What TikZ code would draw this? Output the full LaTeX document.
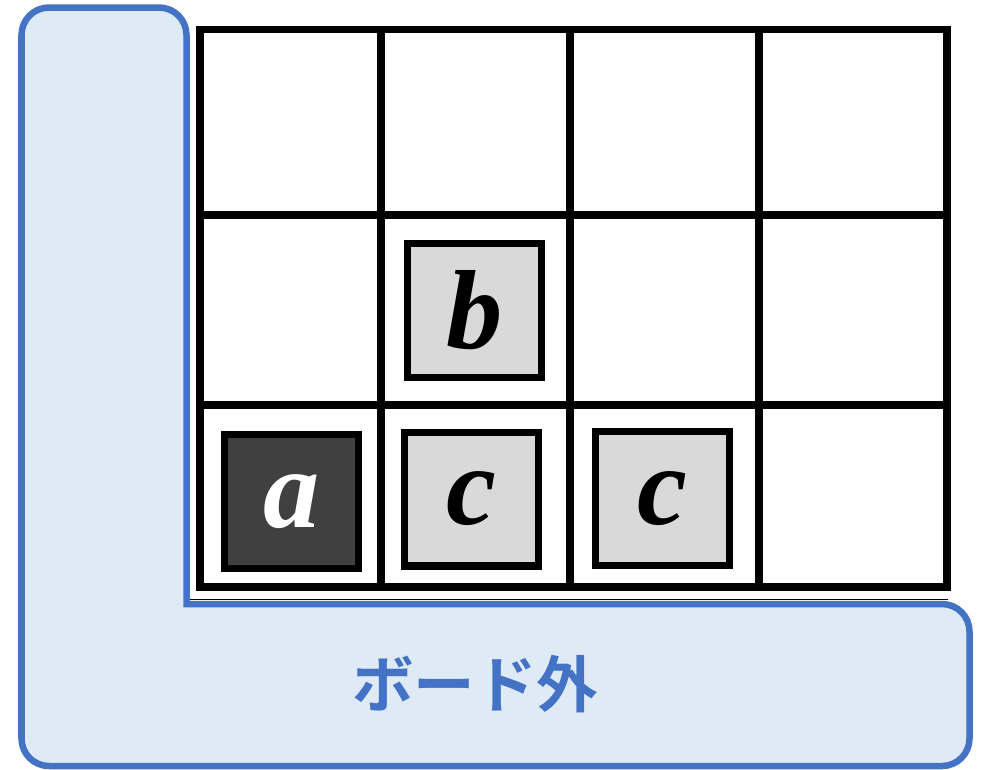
\documentclass[tikz,border=0pt]{standalone}
\usepackage{fontspec}
\newfontfamily\piecefont{Liberation Serif}
\newfontfamily\jpfont{Noto Sans CJK JP Bold}
\definecolor{boardblue}{HTML}{4472C4}
\definecolor{boardfill}{HTML}{DEEAF6}
\definecolor{piecegray}{HTML}{D9D9D9}
\definecolor{piecedark}{HTML}{404040}
\tikzset{
  gridline/.style={line width=4.5pt, black, line cap=rect},
  piece/.style={draw=black, line width=4pt, fill=piecegray, minimum size=2.68cm,
    inner sep=0pt, font=\piecefont\bfseries\itshape\fontsize{64}{64}\selectfont},
  darkpiece/.style={piece, fill=piecedark, text=white},
}
\begin{document}
\begin{tikzpicture}[x=0.02cm, y=-0.02cm]
    \useasboundingbox (0,0) rectangle (981,769);

    % Outside area (L shape)
    \fill[boardfill, rounded corners=0.55cm] (21.5,7.5) rectangle (186.5,766);
    \fill[boardfill, rounded corners=0.55cm] (21.5,604) rectangle (969.5,766);
    \draw[boardblue, line width=3.7pt, rounded corners=0.55cm, line cap=rect]
        (186.5,604) -- (186.5,7.5) -- (21.5,7.5) -- (21.5,766)
        -- (969.5,766) -- (969.5,604) -- (186.5,604);

    % Board
    \fill[white] (190,29.5) rectangle (948,600);
    \draw[thin] (190,599) -- (948,599);
    \foreach \x in {200,381,570,759,947}
        \draw[gridline] (\x,29.5) -- (\x,587);
    \foreach \y in {29.5,215,405,587}
        \draw[gridline] (200,\y) -- (947,\y);

    % Pieces
    \node[darkpiece] (sqA) at (291.5,501.5) {a};
    \node[piece] (sqC1) at (471.5,499) {c};
    \node[piece] (sqC2) at (662.5,498.5) {c};
    \node[piece] (sqB) at (474.5,310.5) {b};

    % Label
    \node[text=boardblue, font=\jpfont\fontsize{35}{35}\selectfont] (outside) at (475,684) {ボード外};
\end{tikzpicture}
\end{document}
